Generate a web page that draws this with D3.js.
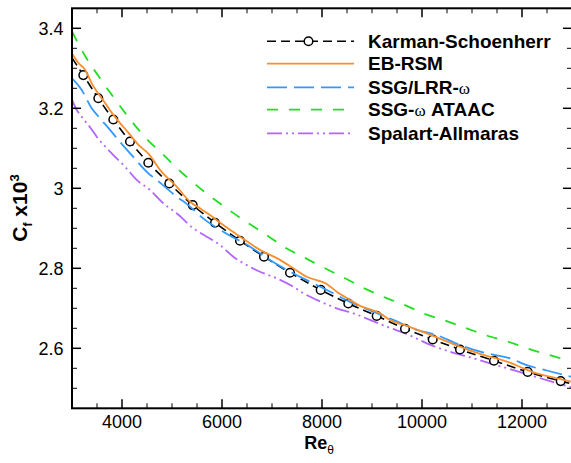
<!DOCTYPE html>
<html>
<head>
<meta charset="utf-8">
<script src="https://cdn.jsdelivr.net/npm/d3@7"></script>
<style>
  html, body { margin: 0; padding: 0; background: #fff; }
  svg { display: block; }
  text { font-family: "Liberation Sans", Arial, Helvetica, sans-serif; }
</style>
</head>
<body>
<svg id="chart" width="571" height="463"></svg>
<script>
// ---------------- DATA ----------------
// Karman-Schoenherr (line incl. end points; interior points carry markers)
const ksRe = [3000, 3226, 3526, 3826, 4160, 4526, 4946, 5414, 5860, 6360, 6840, 7360, 7974, 8526, 9094, 9660, 10214, 10760, 11440, 12114, 12774, 13000];
const ksCf = [3.326, 3.283, 3.225, 3.172, 3.117, 3.064, 3.012, 2.958, 2.914, 2.869, 2.829, 2.789, 2.746, 2.712, 2.681, 2.649, 2.622, 2.597, 2.569, 2.541, 2.518, 2.511];

// EB-RSM
const ebRe = [3000, 3134, 3266, 3400, 3500, 3666, 3800, 3966, 4134, 4334, 4534, 4760, 5094, 5360, 5560, 5760, 6026, 6360, 6760, 7160, 7426, 7694, 8094, 8294, 8560, 8760, 8960, 9160, 9360, 9694, 10094, 10294, 10760, 11026, 11294, 11494, 11760, 12026, 12294, 12560, 12980];
const ebCf = [3.337, 3.3125, 3.296, 3.261, 3.2415, 3.2125, 3.188, 3.1625, 3.138, 3.108, 3.086, 3.046, 3.004, 2.9665, 2.95, 2.933, 2.908, 2.879, 2.846, 2.821, 2.80, 2.779, 2.761, 2.7415, 2.721, 2.706, 2.6975, 2.6875, 2.671, 2.656, 2.6375, 2.6275, 2.604, 2.5915, 2.581, 2.575, 2.564, 2.55, 2.5375, 2.529, 2.5165];

// SSG/LRR-omega
const ssgRe = [3000, 3194, 3394, 3560, 3760, 3994, 4194, 4526, 4694, 5094, 5294, 5660, 6026, 6560, 6960, 7360, 7826, 8226, 8560, 8960, 9426, 9894, 10294, 10760, 11294, 11760, 12094, 12494, 12980];
const ssgCf = [3.275, 3.246, 3.20, 3.175, 3.146, 3.111, 3.083, 3.0375, 3.021, 2.979, 2.961, 2.921, 2.8915, 2.854, 2.821, 2.7915, 2.7625, 2.7375, 2.716, 2.6945, 2.671, 2.646, 2.633, 2.608, 2.5875, 2.575, 2.558, 2.5445, 2.529];

// SSG-omega ATAAC
const ataacRe = [3000, 3280, 3550, 3834, 4134, 4466, 4834, 5260, 5660, 6060, 6460, 6860, 7260, 7660, 8060, 8460, 8880, 9280, 9694, 10094, 10494, 10894, 11294, 11710, 12126, 12526, 12980];
const ataacCf = [3.392, 3.327, 3.277, 3.227, 3.177, 3.127, 3.083, 3.032, 2.990, 2.953, 2.918, 2.886, 2.852, 2.826, 2.800, 2.775, 2.748, 2.726, 2.706, 2.684, 2.668, 2.650, 2.632, 2.617, 2.599, 2.584, 2.567];

// Spalart-Allmaras
const saRe = [3000, 3094, 3200, 3400, 3494, 3794, 4060, 4294, 4560, 4826, 5094, 5426, 5694, 5960, 6226, 6494, 6760, 7094, 7426, 7626, 7894, 8294, 8626, 8960, 9294, 9694, 10094, 10560, 10960, 11360, 11760, 12160, 12560, 12980];
const saCf = [3.221, 3.196, 3.178, 3.146, 3.129, 3.0875, 3.054, 3.021, 2.996, 2.9625, 2.9375, 2.90, 2.879, 2.858, 2.829, 2.808, 2.7915, 2.775, 2.754, 2.7375, 2.721, 2.70, 2.6875, 2.671, 2.654, 2.636, 2.6125, 2.5915, 2.5775, 2.5625, 2.548, 2.533, 2.518, 2.5025];

// Axes
const xMajorTicks = [4000, 6000, 8000, 10000, 12000];
const xTickLabels = ["4000", "6000", "8000", "10000", "12000"];
const xMinorTicks = [3500, 4500, 5000, 5500, 6500, 7000, 7500, 8500, 9000, 9500, 10500, 11000, 11500, 12500];
const yMajorTicks = [2.6, 2.8, 3.0, 3.2, 3.4];
const yTickLabels = ["2.6", "2.8", "3", "3.2", "3.4"];
const yMinorTicks = [2.5, 2.55, 2.65, 2.7, 2.75, 2.85, 2.9, 2.95, 3.05, 3.1, 3.15, 3.25, 3.3, 3.35];

const seriesNames = ["Karman-Schoenherr", "EB-RSM", "SSG/LRR-", "SSG-", "Spalart-Allmaras"];

// ---------------- CHART ----------------
const svg = d3.select("#chart");
const L = 72, R = 572, T = 8.3, B = 408.3;
const x = d3.scaleLinear().domain([3000, 13000]).range([L, R]);
const y = d3.scaleLinear().domain([2.45, 3.45]).range([B, T]);

svg.append("defs").append("clipPath").attr("id", "plotclip")
  .append("rect").attr("x", L).attr("y", T).attr("width", R - L).attr("height", B - T);

const plot = svg.append("g").attr("clip-path", "url(#plotclip)");

const styles = [
  { color: "#000000", dash: "9,5", width: 1.6 },
  { color: "#f78f2e", dash: null, width: 1.8 },
  { color: "#3399ff", dash: "20,7", width: 1.8 },
  { color: "#22dd22", dash: "11,11", width: 1.8 },
  { color: "#b366ff", dash: "15,4,2,4,2,4", width: 1.8 },
];

const series = [
  [ksRe, ksCf], [ebRe, ebCf], [ssgRe, ssgCf], [ataacRe, ataacCf], [saRe, saCf]
];

const line = d3.line().x(d => x(d[0])).y(d => y(d[1])).curve(d3.curveMonotoneX);

const order = [4, 3, 0, 2, 1];
order.forEach(i => {
  const [xs, ys] = series[i];
  const pts = xs.map((v, k) => [v, ys[k]]);
  const p = plot.append("path").datum(pts)
    .attr("fill", "none")
    .attr("stroke", styles[i].color)
    .attr("stroke-width", styles[i].width)
    .attr("d", line);
  if (styles[i].dash) p.attr("stroke-dasharray", styles[i].dash);
  if (i === 0) {
    plot.selectAll("circle.ks").data(pts.slice(1, pts.length - 1)).enter()
      .append("circle").attr("class", "ks")
      .attr("cx", d => x(d[0])).attr("cy", d => y(d[1])).attr("r", 4.3)
      .attr("fill", "#fff").attr("stroke", "#000").attr("stroke-width", 1.5);
  }
});

// axes (ticks inside on all four sides)
const ax = svg.append("g");
const majLen = 9, minLen = 5;
function tickLines(vals, len, sw) {
  vals.forEach(v => {
    const px = x(v);
    ax.append("line").attr("x1", px).attr("x2", px).attr("y1", B).attr("y2", B - len).attr("stroke", "#000").attr("stroke-width", sw);
    ax.append("line").attr("x1", px).attr("x2", px).attr("y1", T).attr("y2", T + len).attr("stroke", "#000").attr("stroke-width", sw);
  });
}
function tickLinesY(vals, len, sw) {
  vals.forEach(v => {
    const py = y(v);
    ax.append("line").attr("x1", L).attr("x2", L + len).attr("y1", py).attr("y2", py).attr("stroke", "#000").attr("stroke-width", sw);
    ax.append("line").attr("x1", R).attr("x2", R - len).attr("y1", py).attr("y2", py).attr("stroke", "#000").attr("stroke-width", sw);
  });
}
tickLines(xMajorTicks, majLen, 1.5);
tickLines(xMinorTicks, minLen, 1);
tickLinesY(yMajorTicks, majLen, 1.5);
tickLinesY(yMinorTicks, minLen, 1);

ax.append("rect").attr("x", L).attr("y", T).attr("width", R - L).attr("height", B - T)
  .attr("fill", "none").attr("stroke", "#000").attr("stroke-width", 2);

// tick labels
xMajorTicks.forEach((v, i) => {
  ax.append("text").attr("x", x(v)).attr("y", 428).attr("text-anchor", "middle")
    .attr("font-size", 18).text(xTickLabels[i]);
});
yMajorTicks.forEach((v, i) => {
  ax.append("text").attr("x", 63.5).attr("y", y(v)).attr("dy", "0.35em").attr("text-anchor", "end")
    .attr("font-size", 18).text(yTickLabels[i]);
});

// axis titles
const xt = svg.append("text").attr("x", 319).attr("y", 448.5).attr("text-anchor", "middle")
  .attr("font-size", 18).attr("font-weight", "bold");
xt.append("tspan").text("Re");
xt.append("tspan").attr("font-size", 12).attr("font-weight", "normal").attr("dy", 5).text("θ");

const yt = svg.append("text").attr("transform", "translate(27,208) rotate(-90)")
  .attr("text-anchor", "middle").attr("font-size", 21).attr("font-weight", "bold");
yt.append("tspan").text("C");
yt.append("tspan").attr("font-size", 12).attr("dy", 5).text("f");
yt.append("tspan").attr("dy", -5).text(" x10");
yt.append("tspan").attr("font-size", 13).attr("dy", -8).text("3");

// legend
const lg = svg.append("g");
const lx1 = 267, lx2 = 354, ltx = 368;
const rowY = [41.3, 63.7, 87.3, 109.7, 133.3];
rowY.forEach((ry, i) => {
  const l = lg.append("line").attr("x1", lx1).attr("x2", lx2).attr("y1", ry).attr("y2", ry)
    .attr("stroke", styles[i].color).attr("stroke-width", styles[i].width);
  if (styles[i].dash) l.attr("stroke-dasharray", styles[i].dash);
  if (i === 0) {
    lg.append("circle").attr("cx", (lx1 + lx2) / 2 - 2).attr("cy", ry).attr("r", 4.3)
      .attr("fill", "#fff").attr("stroke", "#000").attr("stroke-width", 1.5);
  }
  const t = lg.append("text").attr("x", ltx).attr("y", ry + 6.3).attr("font-size", 19).attr("font-weight", "bold");
  t.append("tspan").text(seriesNames[i]);
  if (i === 2) {
    t.append("tspan").attr("font-family", "'Liberation Serif', serif").attr("font-weight", "normal").attr("font-size", 17).text("ω");
  }
  if (i === 3) {
    t.append("tspan").attr("font-family", "'Liberation Serif', serif").attr("font-weight", "normal").attr("font-size", 17).text("ω");
    t.append("tspan").text(" ATAAC");
  }
});
</script>
</body>
</html>
